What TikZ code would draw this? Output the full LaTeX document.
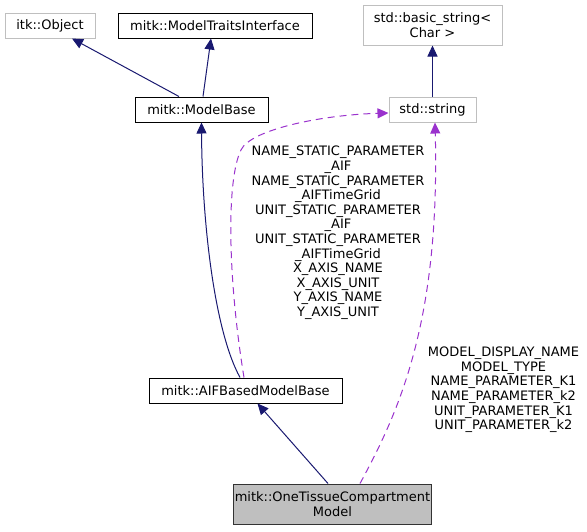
\documentclass[tikz,border=0pt]{standalone}
\usepackage{fontspec}
\setmainfont{DejaVu Sans}
\usepackage{tikz}
\usetikzlibrary{arrows.meta, positioning, calc}
\usepackage{xcolor}
\definecolor{edgenavy}{RGB}{25,25,112}
\definecolor{edgepurple}{RGB}{154,50,205}
\definecolor{lightgraybox}{RGB}{191,191,191}
\tikzset{
  basebox/.style={rectangle, draw=black, fill=white, line width=1pt, align=center, inner sep=1pt,
    font=\fontsize{13}{14.6}\selectfont},
  classbox/.style={basebox, minimum height=25pt},
  extbox/.style={basebox, draw=lightgraybox, minimum height=25pt},
  focusbox/.style={basebox, fill=lightgraybox, draw=black!80, minimum height=40pt},
  memberlabel/.style={align=center, inner sep=0pt, font=\fontsize{13}{14.6}\selectfont},
  navyarrow/.style={-{Triangle[length=11pt,width=10pt]}, line width=1pt, color=edgenavy},
  purplearrow/.style={-{Triangle[length=11pt,width=10pt]}, line width=1pt, color=edgepurple,
    dash pattern=on 7pt off 5pt}
}

\begin{document}
\begin{tikzpicture}[x=1pt, y=-1pt]
  \useasboundingbox (0,0) rectangle (587,531);
  \node[extbox, minimum width=90pt] (itkobj) at (50,25.5) {itk::Object};
  \node[classbox, minimum width=194pt] (traits) at (215,25.5) {mitk::ModelTraitsInterface};
  \node[extbox, minimum width=139pt, minimum height=40pt] (basicstr) at (432.5,25) {std::basic\_string<\\Char >};
  \node[classbox, minimum width=133pt] (modelbase) at (201.5,109.5) {mitk::ModelBase};
  \node[extbox, minimum width=87pt] (stdstr) at (432.5,109.5) {std::string};
  \node[classbox, minimum width=193pt] (aifbase) at (245.5,390.5) {mitk::AIFBasedModelBase};
  \node[focusbox, minimum width=191pt] (onetissue) at (332.5,504) {mitk::OneTissueCompartment\\Model};

  \node[memberlabel] (staticlbl) at (338,233) {NAME\_STATIC\_PARAMETER\\\_AIF\\NAME\_STATIC\_PARAMETER\\\_AIFTimeGrid\\UNIT\_STATIC\_PARAMETER\\\_AIF\\UNIT\_STATIC\_PARAMETER\\\_AIFTimeGrid\\X\_AXIS\_NAME\\X\_AXIS\_UNIT\\Y\_AXIS\_NAME\\Y\_AXIS\_UNIT};
  \node[memberlabel] (modellbl) at (503.5,390) {MODEL\_DISPLAY\_NAME\\MODEL\_TYPE\\NAME\_PARAMETER\_K1\\NAME\_PARAMETER\_k2\\UNIT\_PARAMETER\_K1\\UNIT\_PARAMETER\_k2};

  \draw[navyarrow] ([xshift=-22.5pt]modelbase.north) -- ([xshift=22pt]itkobj.south);
  \draw[navyarrow] ([xshift=1.5pt]modelbase.north) -- ([xshift=-4pt]traits.south);
  \draw[navyarrow] (stdstr) -- (basicstr);
  \draw[navyarrow] ([xshift=-5.5pt]aifbase.north) .. controls (214,330) and (202,220) .. (modelbase.south);
  \draw[purplearrow] ([xshift=-1.5pt]aifbase.north) .. controls (228,280) and (226,180) .. (241,150)
    .. controls (250,130) and (320,115) .. ([yshift=-3.5pt]stdstr.west);
  \draw[navyarrow] ([xshift=-4.5pt]onetissue.north) -- ([xshift=12pt]aifbase.south);
  \draw[purplearrow] ([xshift=27.5pt]onetissue.north) .. controls (400,410) and (440,320) .. ([xshift=2.5pt]stdstr.south);
\end{tikzpicture}
\end{document}
